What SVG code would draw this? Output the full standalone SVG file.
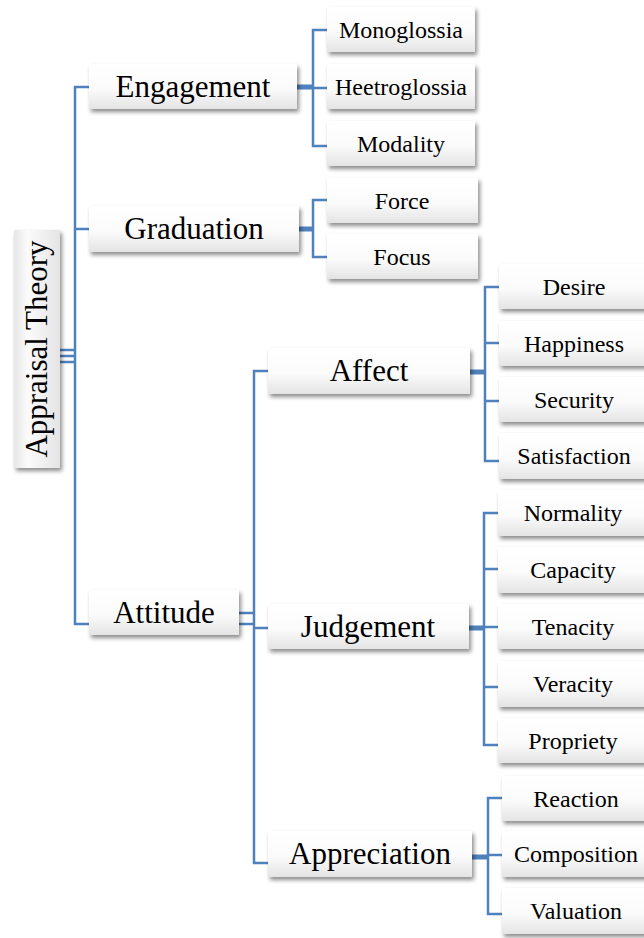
<svg xmlns="http://www.w3.org/2000/svg" width="644" height="938" viewBox="0 0 644 938" font-family="Liberation Serif, DejaVu Serif, serif">
  <style>
    .box { fill: url(#boxFill); filter: url(#shadow); }
    .rootbox { fill: url(#rootFill); filter: url(#shadow); }
    text { font-family: "Liberation Serif", "DejaVu Serif", serif; fill: #000; text-anchor: middle; }
    .t1 { font-size: 31px; }
    .t2 { font-size: 24px; }
    .ln { fill: none; stroke: #4F81BD; stroke-width: 2.5; }
    .stub { fill: none; stroke: #4F81BD; stroke-width: 5; }
  </style>
  <defs>
    <linearGradient id="boxFill" x1="0" y1="0" x2="0" y2="1">
      <stop offset="0" stop-color="#ffffff"/>
      <stop offset="0.55" stop-color="#fbfbfb"/>
      <stop offset="1" stop-color="#e4e4e4"/>
    </linearGradient>
    <linearGradient id="rootFill" x1="0" y1="0" x2="1" y2="0">
      <stop offset="0" stop-color="#e6e6e6"/>
      <stop offset="0.3" stop-color="#fbfbfb"/>
      <stop offset="1" stop-color="#e4e4e4"/>
    </linearGradient>
    <filter id="shadow" x="-10%" y="-20%" width="130%" height="150%">
      <feDropShadow dx="2" dy="3" stdDeviation="2" flood-color="#000" flood-opacity="0.45"/>
    </filter>
  </defs>
  <rect width="644" height="938" fill="#ffffff"/>

  <!-- connectors -->
  <g id="connectors">
    <!-- root to trunk -->
    <path class="ln" d="M60,350 H75 M60,356 H75 M60,362 H75" stroke-width="2"/>
    <path class="ln" d="M89,87 H75 V624 H89 M75,229 H89"/>
    <!-- Engagement -->
    <path class="stub" d="M297,87 H313"/>
    <path class="ln" d="M327,30 H313 V146 H327 M313,88 H327"/>
    <!-- Graduation -->
    <path class="stub" d="M299,229 H313"/>
    <path class="ln" d="M327,200 H313 V257 H327"/>
    <!-- Attitude -->
    <path class="ln" d="M239,613 H254 M239,624 H254"/>
    <path class="ln" d="M268,371 H254 V863 H268 M254,628 H268"/>
    <!-- Affect -->
    <path class="stub" d="M470,372 H485"/>
    <path class="ln" d="M499,287 H485 V461 H499 M485,343 H499 M485,401 H499"/>
    <!-- Judgement -->
    <path class="stub" d="M469,628 H484"/>
    <path class="ln" d="M498,513 H484 V745 H498 M484,569 H498 M484,627 H498 M484,687 H498"/>
    <!-- Appreciation -->
    <path class="stub" d="M472,857 H488"/>
    <path class="ln" d="M502,798 H488 V914 H502 M488,855 H502"/>
  </g>

  <!-- root -->
  <g id="appraisal-theory">
    <rect class="rootbox" x="14" y="230" width="46" height="238"/>
    <text class="t1" transform="translate(37,349) rotate(-90)" x="0" y="10">Appraisal Theory</text>
  </g>

  <!-- first level -->
  <g id="engagement">
    <rect class="box" x="89" y="64" width="208" height="45"/>
    <text class="t1" x="193" y="97">Engagement</text>
  </g>
  <g id="graduation">
    <rect class="box" x="89" y="206" width="210" height="46"/>
    <text class="t1" x="194" y="239">Graduation</text>
  </g>
  <g id="attitude">
    <rect class="box" x="89" y="590" width="150" height="45"/>
    <text class="t1" x="164" y="623">Attitude</text>
  </g>

  <!-- attitude subsystems -->
  <g id="affect">
    <rect class="box" x="268" y="348" width="202" height="46"/>
    <text class="t1" x="369" y="381">Affect</text>
  </g>
  <g id="judgement">
    <rect class="box" x="268" y="604" width="201" height="45"/>
    <text class="t1" x="368" y="637">Judgement</text>
  </g>
  <g id="appreciation">
    <rect class="box" x="268" y="831" width="204" height="46"/>
    <text class="t1" x="370" y="864">Appreciation</text>
  </g>

  <!-- engagement options -->
  <g id="monoglossia">
    <rect class="box" x="327" y="7" width="148" height="45"/>
    <text class="t2" x="401" y="38">Monoglossia</text>
  </g>
  <g id="heetroglossia">
    <rect class="box" x="327" y="64" width="148" height="45"/>
    <text class="t2" x="401" y="95">Heetroglossia</text>
  </g>
  <g id="modality">
    <rect class="box" x="327" y="121" width="148" height="45"/>
    <text class="t2" x="401" y="152">Modality</text>
  </g>

  <!-- graduation options -->
  <g id="force">
    <rect class="box" x="327" y="178" width="151" height="45"/>
    <text class="t2" x="402" y="209">Force</text>
  </g>
  <g id="focus">
    <rect class="box" x="327" y="234" width="151" height="45"/>
    <text class="t2" x="402" y="265">Focus</text>
  </g>

  <!-- affect options -->
  <g id="desire">
    <rect class="box" x="499" y="264" width="150" height="45"/>
    <text class="t2" x="574" y="295">Desire</text>
  </g>
  <g id="happiness">
    <rect class="box" x="499" y="321" width="150" height="45"/>
    <text class="t2" x="574" y="352">Happiness</text>
  </g>
  <g id="security">
    <rect class="box" x="499" y="377" width="150" height="45"/>
    <text class="t2" x="574" y="408">Security</text>
  </g>
  <g id="satisfaction">
    <rect class="box" x="499" y="433" width="150" height="46"/>
    <text class="t2" x="574" y="464">Satisfaction</text>
  </g>

  <!-- judgement options -->
  <g id="normality">
    <rect class="box" x="498" y="490" width="150" height="46"/>
    <text class="t2" x="573" y="521">Normality</text>
  </g>
  <g id="capacity">
    <rect class="box" x="498" y="547" width="150" height="46"/>
    <text class="t2" x="573" y="578">Capacity</text>
  </g>
  <g id="tenacity">
    <rect class="box" x="498" y="604" width="150" height="45"/>
    <text class="t2" x="573" y="635">Tenacity</text>
  </g>
  <g id="veracity">
    <rect class="box" x="498" y="661" width="150" height="46"/>
    <text class="t2" x="573" y="692">Veracity</text>
  </g>
  <g id="propriety">
    <rect class="box" x="498" y="718" width="150" height="45"/>
    <text class="t2" x="573" y="749">Propriety</text>
  </g>

  <!-- appreciation options -->
  <g id="reaction">
    <rect class="box" x="502" y="776" width="150" height="45"/>
    <text class="t2" x="576" y="807">Reaction</text>
  </g>
  <g id="composition">
    <rect class="box" x="502" y="831" width="150" height="46"/>
    <text class="t2" x="576" y="862">Composition</text>
  </g>
  <g id="valuation">
    <rect class="box" x="502" y="888" width="150" height="46"/>
    <text class="t2" x="576" y="919">Valuation</text>
  </g>
</svg>
